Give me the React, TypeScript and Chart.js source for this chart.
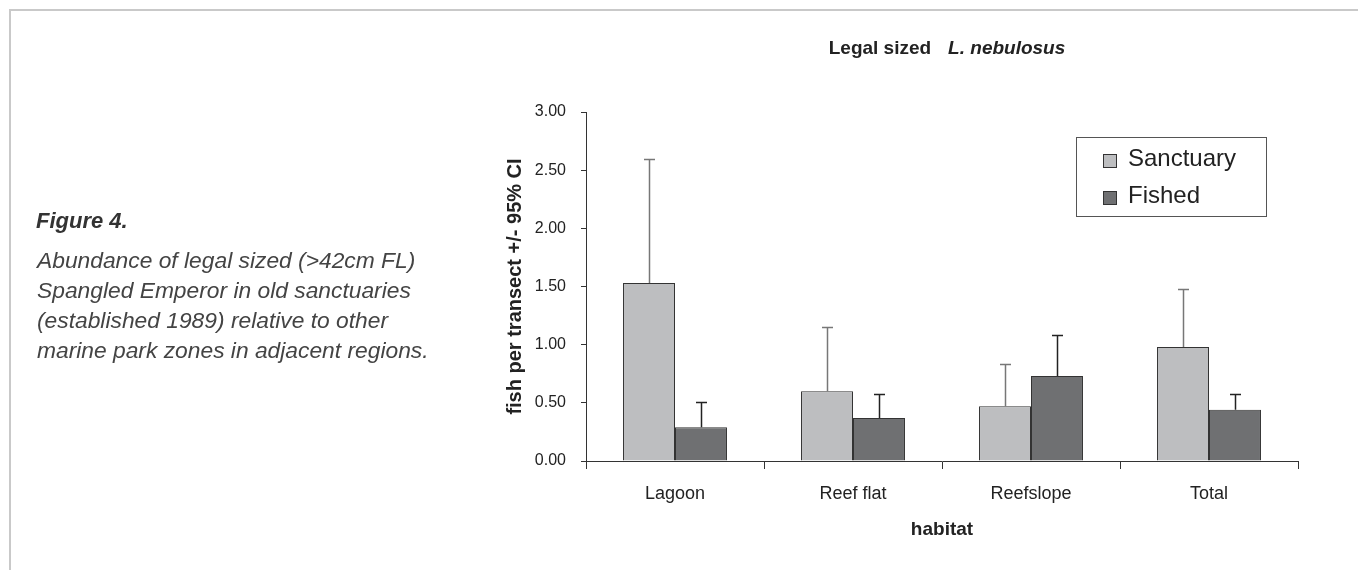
import React, { useEffect, useRef } from "react";
import { Chart, registerables } from "chart.js";

Chart.register(...registerables);

// ---- data ----
const categories = ["Lagoon", "Reef flat", "Reefslope", "Total"];
const seriesLabels = ["Sanctuary", "Fished"];
const sanctuaryMean = [1.53, 0.6, 0.47, 0.98];
const sanctuaryUpper = [2.6, 1.15, 0.83, 1.48];
const fishedMean = [0.29, 0.37, 0.73, 0.44];
const fishedUpper = [0.51, 0.58, 1.08, 0.58];
const yMin = 0;
const yMax = 3;
const yStep = 0.5;

const titleMain = "Legal sized";
const titleSpecies = "L. nebulosus";
const yAxisTitle = "fish per transect +/- 95% CI";
const xAxisTitle = "habitat";
const figureLabel = "Figure 4.";
const captionLines = [
  "Abundance of legal sized (>42cm FL)",
  "Spangled Emperor in old sanctuaries",
  "(established 1989) relative to other",
  "marine park zones in adjacent regions.",
];

const FONT = "'Liberation Sans', Arial, Helvetica, sans-serif";

const errorBarPlugin = {
  id: "errorBars",
  afterDatasetsDraw(chart: any) {
    const ctx = chart.ctx;
    const yScale = chart.scales.y;
    chart.data.datasets.forEach((ds: any, di: number) => {
      const meta = chart.getDatasetMeta(di);
      meta.data.forEach((bar: any, i: number) => {
        const top = Math.round(yScale.getPixelForValue(ds.upper[i])) + 0.5;
        const x = Math.round(bar.x) + 0.5;
        ctx.save();
        ctx.strokeStyle = ds.errorColor;
        ctx.lineWidth = 1.5;
        ctx.beginPath();
        ctx.moveTo(x, bar.y);
        ctx.lineTo(x, top);
        ctx.moveTo(x - 5.5, top);
        ctx.lineTo(x + 5.5, top);
        ctx.stroke();
        ctx.restore();
      });
    });
  },
};

const titlePlugin = {
  id: "speciesTitle",
  afterDraw(chart: any) {
    const ctx = chart.ctx;
    ctx.save();
    ctx.fillStyle = "#222";
    ctx.textBaseline = "middle";
    ctx.textAlign = "left";
    const f1 = `bold 19px ${FONT}`;
    const f2 = `italic bold 19px ${FONT}`;
    ctx.font = f1;
    const w1 = ctx.measureText(titleMain).width;
    ctx.font = f2;
    const w2 = ctx.measureText(titleSpecies).width;
    const gap = 17;
    const total = w1 + gap + w2;
    const cx = (chart.chartArea.left + chart.chartArea.right) / 2 + 5;
    const x0 = cx - total / 2;
    const y = 49;
    ctx.font = f1;
    ctx.fillText(titleMain, x0, y);
    ctx.font = f2;
    ctx.fillText(titleSpecies, x0 + w1 + gap, y);
    ctx.restore();
  },
};

const legendPlugin = {
  id: "boxLegend",
  afterDraw(chart: any) {
    const ctx = chart.ctx;
    const area = chart.chartArea;
    const right = area.right - 32;
    const left = right - 190;
    const top = area.top + 25;
    const height = 79;
    ctx.save();
    ctx.fillStyle = "#fff";
    ctx.fillRect(left, top, right - left, height);
    ctx.strokeStyle = "#555";
    ctx.lineWidth = 1;
    ctx.strokeRect(Math.round(left) + 0.5, Math.round(top) + 0.5, right - left, height);
    ctx.font = `24px ${FONT}`;
    ctx.textBaseline = "middle";
    ctx.textAlign = "left";
    chart.data.datasets.forEach((ds: any, i: number) => {
      const cy = top + 24 + i * 37;
      const sx = left + 27;
      ctx.fillStyle = ds.backgroundColor;
      ctx.fillRect(sx, cy - 7, 14, 14);
      ctx.strokeStyle = "#333";
      ctx.strokeRect(sx + 0.5, cy - 6.5, 13, 13);
      ctx.fillStyle = "#222";
      ctx.fillText(ds.label, left + 52, cy - 2);
    });
    ctx.restore();
  },
};

export default function App() {
  const canvasRef = useRef<HTMLCanvasElement | null>(null);

  useEffect(() => {
    if (!canvasRef.current) return;
    const chart = new Chart(canvasRef.current, {
      type: "bar",
      data: {
        labels: categories,
        datasets: [
          {
            label: seriesLabels[0],
            data: sanctuaryMean,
            backgroundColor: "#bdbec0",
            borderColor: "#333",
            borderWidth: 1,
            upper: sanctuaryUpper,
            errorColor: "#777",
          } as any,
          {
            label: seriesLabels[1],
            data: fishedMean,
            backgroundColor: "#6f7072",
            borderColor: "#333",
            borderWidth: 1,
            upper: fishedUpper,
            errorColor: "#222",
          } as any,
        ],
      },
      options: {
        animation: false,
        responsive: false,
        devicePixelRatio: 1,
        events: [],
        layout: { padding: { left: 500, right: 60, top: 112, bottom: 0 } },
        datasets: { bar: { categoryPercentage: 0.584, barPercentage: 1.0 } },
        plugins: {
          legend: { display: false },
          title: { display: false },
          tooltip: { enabled: false },
        },
        scales: {
          x: {
            afterFit: (s: any) => {
              s.height = 109;
            },
            grid: {
              offset: true,
              drawOnChartArea: false,
              drawTicks: true,
              tickLength: 8,
              color: "#333",
              lineWidth: 1,
            },
            border: { display: true, color: "#333", width: 1 },
            ticks: {
              color: "#222",
              padding: 14,
              font: { family: FONT, size: 18 },
            },
            title: {
              display: true,
              text: xAxisTitle,
              color: "#222",
              font: { family: FONT, size: 19, weight: "bold" },
              padding: { top: 0, bottom: 29 },
            },
          },
          y: {
            min: yMin,
            max: yMax,
            afterFit: (s: any) => {
              s.width = 86;
            },
            grid: {
              drawOnChartArea: false,
              drawTicks: true,
              tickLength: 5,
              color: "#333",
              lineWidth: 1,
            },
            border: { display: true, color: "#333", width: 1 },
            ticks: {
              stepSize: yStep,
              color: "#222",
              padding: 15,
              font: { family: FONT, size: 16 },
              callback: (v: any) => Number(v).toFixed(2),
            },
            title: {
              display: true,
              text: yAxisTitle,
              color: "#222",
              font: { family: FONT, size: 20, weight: "bold" },
              padding: { top: 3, bottom: 0 },
            },
          },
        },
      },
      plugins: [errorBarPlugin, titlePlugin, legendPlugin],
    });
    return () => chart.destroy();
  }, []);

  return (
    <div
      style={{
        position: "fixed",
        left: 0,
        top: 0,
        width: 1358,
        height: 570,
        background: "#fff",
        overflow: "hidden",
      }}
    >
      <div
        style={{
          position: "absolute",
          left: 9,
          top: 9,
          right: 0,
          bottom: 0,
          borderTop: "2px solid #c9c9c9",
          borderLeft: "2px solid #c9c9c9",
        }}
      />
      <canvas
        ref={canvasRef}
        width={1358}
        height={570}
        style={{ position: "absolute", left: 0, top: 0, display: "block" }}
      />
      <div
        style={{
          position: "absolute",
          left: 36,
          top: 207,
          fontFamily: FONT,
          fontStyle: "italic",
          fontWeight: "bold",
          fontSize: 22,
          lineHeight: "28px",
          color: "#333",
          whiteSpace: "nowrap",
        }}
      >
        {figureLabel}
      </div>
      <div
        style={{
          position: "absolute",
          left: 37,
          top: 245,
          fontFamily: FONT,
          fontStyle: "italic",
          fontSize: 22.8,
          lineHeight: "30px",
          color: "#444",
          whiteSpace: "nowrap",
        }}
      >
        {captionLines.map((l, i) => (
          <div key={i}>{l}</div>
        ))}
      </div>
    </div>
  );
}
